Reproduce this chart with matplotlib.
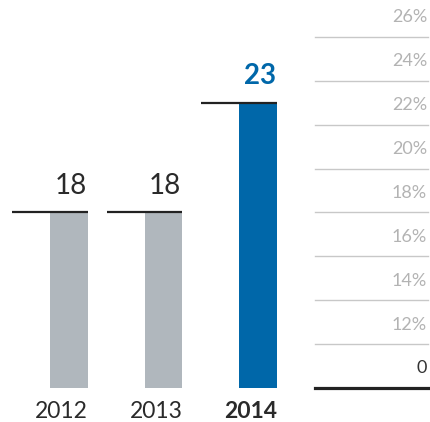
import matplotlib
matplotlib.use("Agg")
import matplotlib.pyplot as plt

years = ["2012", "2013", "2014"]
values = [18, 18, 23]
bar_colors = ["#b0b7bd", "#b0b7bd", "#0067a9"]
label_colors = ["#2a2a2a", "#2a2a2a", "#0067a9"]
tick_values = [10, 12, 14, 16, 18, 20, 22, 24, 26]
tick_labels = ["0", "12%", "14%", "16%", "18%", "20%", "22%", "24%", "26%"]
axis_floor = 10

fam = "Lato"
fig = plt.figure(figsize=(4.3, 4.22), dpi=100)
ax = fig.add_axes([0, 0, 1, 1])
ax.set_xlim(-0.730, 3.820)
ax.set_ylim(8.45, 27.68)
ax.axis("off")

bw = 0.40
gx0, gx1 = 315 / 430, 428 / 430
for tv, tl in zip(tick_values, tick_labels):
    if tv == axis_floor:
        ax.axhline(tv, gx0, gx1, color="#222222", lw=2.3, zorder=3)
        col = "#333333"
    else:
        ax.axhline(tv, gx0, gx1, color="#c8c8c8", lw=1.0, zorder=1)
        col = "#b3b3b3"
    ax.annotate(tl, xy=(0.993, tv), xycoords=("axes fraction", "data"),
                xytext=(0, 10.5), textcoords="offset points",
                ha="right", va="baseline", fontsize=13, color=col,
                family=fam, fontweight="normal")

for i, (yr, v) in enumerate(zip(years, values)):
    ax.bar(i, v - axis_floor, bottom=axis_floor, width=bw,
           color=bar_colors[i], zorder=2)
    ax.plot([i - 0.6, i + bw / 2], [v, v], color="#222222", lw=1.6,
            solid_capstyle="butt", zorder=3)
    bold = i == len(years) - 1
    ax.annotate(str(v), xy=(i + bw / 2, v), xytext=(-1, 13.5),
                textcoords="offset points", ha="right", va="baseline",
                fontsize=20, color=label_colors[i], family=fam,
                fontweight="bold" if bold else "normal")
    ax.annotate(yr, xy=(i + bw / 2, axis_floor), xytext=(0, -21.8),
                textcoords="offset points", ha="right", va="baseline",
                fontsize=16.5, color=label_colors[0], family=fam,
                fontweight="bold" if bold else "normal")

fig.savefig("out.png", dpi=100)
